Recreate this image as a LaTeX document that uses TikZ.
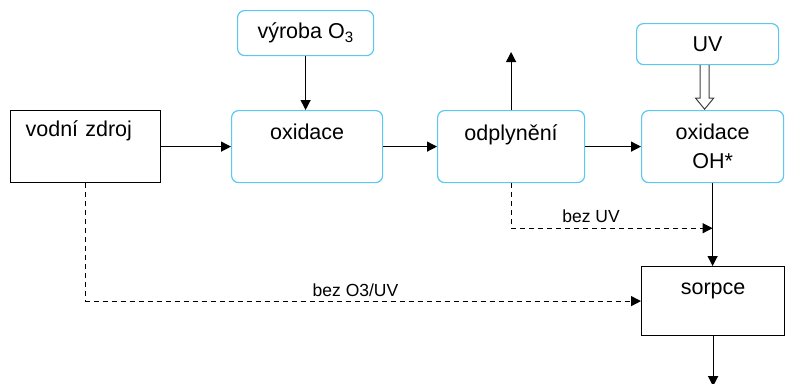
\documentclass[tikz,border=0pt]{standalone}
\usepackage{fontspec}
\setmainfont{Liberation Sans}
\usetikzlibrary{arrows.meta,calc}
\definecolor{boxblue}{RGB}{90,200,240}

\begin{document}
\begin{tikzpicture}[x=1pt, y=-1pt,
    bluebox/.style={draw=boxblue, line width=1.2pt, rounded corners=7pt, inner sep=0pt,
      anchor=north west, font=\fontsize{21.5}{29}\selectfont},
    blackbox/.style={draw=black, line width=1.2pt, inner sep=0pt,
      anchor=north west, font=\fontsize{21.5}{29}\selectfont},
    flow/.style={line width=1.2pt, -{Triangle[length=10pt,width=10pt]}},
    bypass/.style={flow, dash pattern=on 5pt off 4pt},
    small/.style={font=\fontsize{17.5}{21}\selectfont, inner sep=0pt, anchor=base}]
	\useasboundingbox (0,0) rectangle (786,383);
	% boxes
	\node[blackbox, minimum width=150, text height=26, text depth=46, text width=120, inner xsep=15, align=left] (vz) at (10,110) {vodní zdroj};
	\node[bluebox, minimum width=136, minimum height=45] (vyr) at (237,10) {výroba O\textsubscript{3}};
	\node[bluebox, minimum width=151, text height=29, text depth=43] (oxi) at (231,110) {oxidace};
	\node[bluebox, minimum width=147, text height=30, text depth=42] (odp) at (437,110) {odplynění};
	\node[bluebox, minimum width=142, minimum height=41] (uv) at (636,23) {UV};
	\node[bluebox, minimum width=142, text height=58, text depth=14, align=center] (ohx) at (641,110) {oxidace\\OH*};
	\node[blackbox, minimum width=143, text height=28, text depth=41] (sorp) at (641,266) {sorpce};
	% main line
	\draw[flow] (vyr.south) -- (vyr.south |- oxi.north);
	\draw[flow] (vz) -- (oxi);
	\draw[flow] (oxi) -- (odp);
	\draw[flow] (odp) -- (ohx);
	\coordinate (vent) at ($(odp.north)+(0,-58)$);
	\draw[flow] (odp.north) -- (vent);
	\draw[line width=1pt, draw=black!75] ($(uv.south)+(-7.5,0)$) -- ++(0,33) -- ++(-4.5,0) -- ++(9,11)
		-- ++(9,-11) -- ++(-4.5,0) -- ++(0,-33);
	\draw[flow] (ohx.south) -- (ohx.south |- sorp.north);
	\coordinate (out) at ($(sorp.south)+(0,50)$);
	\draw[flow] (sorp.south) -- (out);
	% bypasses
	\coordinate (uvjoin) at ($(ohx.south)+(0,45)$);
	\draw[bypass] (odp.south) |- (uvjoin);
	\node[small] (lbuv) at (591,222) {bez UV};
	\draw[bypass] (vz.south) |- (sorp.west);
	\node[small] (lbo3) at (355.5,296) {bez O3/UV};
\end{tikzpicture}
\end{document}
